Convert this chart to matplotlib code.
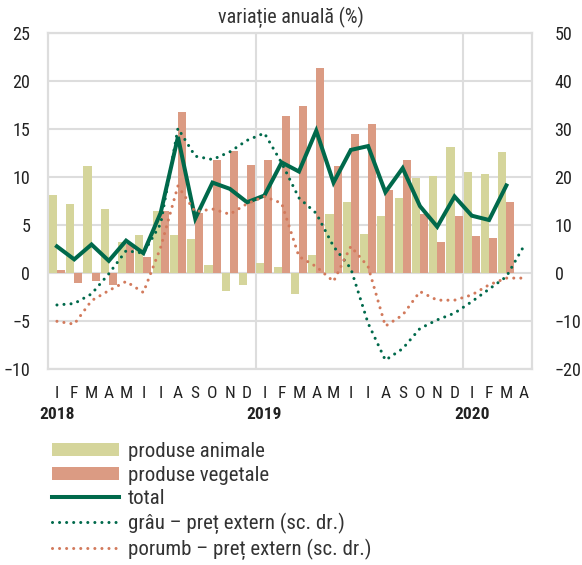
import numpy as np
import matplotlib
matplotlib.use('Agg')
import matplotlib.pyplot as plt
from matplotlib import font_manager

# fonte mais estreita, se existir
nomes_fontes = set(f.name for f in font_manager.fontManager.ttflist)
familia = [f for f in ['Liberation Sans Narrow', 'Roboto Condensed', 'Roboto'] if f in nomes_fontes]
familia += ['DejaVu Sans']
plt.rcParams['font.family'] = familia

# ============================================
# DADOS
# ============================================

luni = ['I', 'F', 'M', 'A', 'M', 'I', 'I', 'A', 'S', 'O', 'N', 'D',
        'I', 'F', 'M', 'A', 'M', 'I', 'I', 'A', 'S', 'O', 'N', 'D',
        'I', 'F', 'M', 'A']
ani = ['2018', '2019', '2020']

animale = [8.2, 7.2, 11.15, 6.7, 3.3, 4.0, 6.5, 4.0, 3.6, 0.9, -1.8, -1.2,
           1.1, 0.7, -2.2, 1.95, 6.15, 7.4, 4.1, 5.95, 7.8, 9.9, 10.1, 13.2,
           10.5, 10.3, 12.65]
vegetale = [0.3, -1.0, -0.85, -1.2, 3.0, 1.7, 6.5, 16.8, 6.3, 11.8, 12.75, 11.3,
            11.8, 16.4, 17.4, 21.4, 11.2, 14.5, 15.55, 8.7, 11.8, 6.15, 3.25, 5.95,
            3.9, 3.65, 7.4]
total = [2.8, 1.45, 3.0, 1.3, 3.4, 2.1, 6.3, 14.2, 5.7, 9.45, 8.8, 7.4,
         8.1, 11.55, 10.6, 14.85, 9.45, 12.85, 13.25, 8.45, 10.95, 7.0, 4.85, 8.0,
         6.0, 5.55, 9.15]
grau = [-6.6, -6.3, -4.3, -0.1, 4.7, 4.2, 10.3, 30.2, 24.4, 23.7, 25.3, 27.7,
        29.2, 23.0, 15.7, 12.5, 5.6, 1.0, -10.4, -18.1, -15.7, -11.5, -9.7, -8.3,
        -5.9, -3.3, -0.7, 5.6]
porumb = [-10.0, -10.6, -5.7, -3.6, -1.7, -4.0, 5.4, 18.2, 12.8, 13.4, 12.3, 14.5,
          16.0, 14.6, 3.5, 1.4, -1.7, 5.6, 1.4, -11.0, -8.7, -3.8, -5.6, -5.6,
          -4.5, -2.4, -1.0, -1.0]

# ============================================
# GRAFICO
# ============================================

cor_animale = '#D5D59B'
cor_vegetale = '#DB9B83'
cor_total = '#00694B'
cor_porumb = '#D27A5C'
cor_grade = '#DDDDDD'
cor_texto = '#222222'

fig = plt.figure(figsize=(5.82, 5.65), dpi=100)
ax = fig.add_axes([48.3 / 582, 1 - 369.3 / 565, (532.3 - 48.3) / 582, (369.3 - 33.3) / 565])
ax2 = ax.twinx()

x = np.arange(len(luni))
xb = np.arange(len(animale))
lb = 0.47

b1 = ax.bar(xb - lb / 2, animale, width=lb, color=cor_animale, zorder=2, label='produse animale')
b2 = ax.bar(xb + lb / 2, vegetale, width=lb, color=cor_vegetale, zorder=2, label='produse vegetale')
l0, = ax.plot(xb, total, color=cor_total, linewidth=2.9, zorder=4, label='total',
              solid_joinstyle='miter')

l1, = ax2.plot(x, grau, color=cor_total, linewidth=2.2, linestyle=(0, (0.01, 2.3)),
               dash_capstyle='round', label='grâu – preț extern (sc. dr.)')
l2, = ax2.plot(x, porumb, color=cor_porumb, linewidth=2.2, linestyle=(0, (0.01, 2.3)),
               dash_capstyle='round', label='porumb – preț extern (sc. dr.)')

ax.set_xlim(-0.5, len(luni) - 0.5)
ax.set_ylim(-10, 25)
ax2.set_ylim(-20, 50)
ax.set_yticks(range(-10, 30, 5))
ax2.set_yticks(range(-20, 60, 10))

ax.set_xticks(x)
ax.set_xticklabels(luni)
ax.tick_params(axis='x', length=0, pad=12, labelsize=12.5, colors=cor_texto)
ax.tick_params(axis='y', length=0, pad=13, labelsize=13, colors=cor_texto)
ax2.tick_params(axis='y', length=0, pad=16, labelsize=13, colors=cor_texto)

for g in range(-10, 30, 5):
    ax.axhline(g, color=cor_grade, linewidth=1.5, zorder=0)
for v in [11.5, 23.5]:
    ax.axvline(v, color=cor_grade, linewidth=1.5, zorder=0)

for a in [ax, ax2]:
    for s in a.spines.values():
        s.set_color(cor_grade)
        s.set_linewidth(1.5)

for i, ano in enumerate(ani):
    ax.text(i * 12, -0.135, ano, transform=ax.get_xaxis_transform(), ha='center', va='center',
            fontsize=12.5, fontweight='bold', color=cor_texto)

fig.text(0.5, 1 - 17 / 565, 'variație anuală (%)', ha='center', va='center',
         fontsize=14.5, color='#333333')

fig.legend([b1, b2, l0, l1, l2],
           [b1.get_label(), b2.get_label(), l0.get_label(), l1.get_label(), l2.get_label()],
           loc='upper left', bbox_to_anchor=(52 / 582, 1 - 442 / 565),
           frameon=False, fontsize=15, handlelength=3.2, handleheight=0.6,
           handletextpad=0.45, labelspacing=0.22, borderaxespad=0, borderpad=0,
           labelcolor='#333333')

plt.savefig('out.png', dpi=100)
